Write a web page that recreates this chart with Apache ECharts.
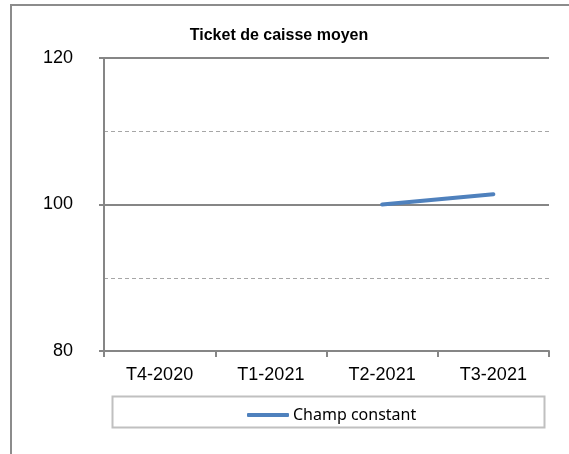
<!DOCTYPE html>
<html>
<head>
<meta charset="utf-8">
<script src="https://cdn.jsdelivr.net/npm/echarts@6/dist/echarts.min.js"></script>
<style>
  html, body { margin: 0; padding: 0; background: #fff; }
  #chart { width: 569px; height: 454px; }
</style>
</head>
<body>
<div id="chart"></div>
<script>
// data
const categories = ['T4-2020', 'T1-2021', 'T2-2021', 'T3-2021']
const champConstant = [null, null, 100, 101.4]
const seriesName = 'Champ constant'

const chartInstance = echarts.init(document.getElementById('chart'))

const option = {
    animation: false,
    title: {
        text: 'Ticket de caisse moyen',
        left: 274,
        textAlign: 'center',
        top: 23,
        textStyle: {
            fontFamily: 'Liberation Sans, Arial',
            fontSize: 16,
            fontWeight: 'bold',
            color: '#000'
        }
    },
    graphic: [
        {
            // outer frame, runs off the right and bottom edge
            type: 'rect',
            shape: { x: 11, y: 5, width: 620, height: 520 },
            style: { fill: 'none', stroke: '#8c8c8c', lineWidth: 2 },
            z: 0
        },
        {
            // legend box
            type: 'rect',
            shape: { x: 112.5, y: 396.5, width: 432, height: 31 },
            style: { fill: 'none', stroke: '#c0c0c0', lineWidth: 2 },
            z: 0
        }
    ],
    legend: {
        data: [seriesName],
        left: 242,
        top: 402,
        icon: 'roundRect',
        itemWidth: 42,
        itemHeight: 4,
        itemGap: 0,
        textStyle: {
            fontFamily: 'Noto Sans, Open Sans',
            fontSize: 16,
            color: '#000',
            padding: [0, 0, 0, -1]
        }
    },
    grid: {
        left: 104,
        right: 20,
        top: 58,
        bottom: 103
    },
    xAxis: {
        type: 'category',
        data: categories,
        boundaryGap: true,
        axisLine: { lineStyle: { color: '#868686', width: 2 } },
        axisTick: { show: true, length: 6, lineStyle: { color: '#868686', width: 2 } },
        axisLabel: {
            margin: 15,
            fontFamily: 'Liberation Sans, Arial',
            fontSize: 18,
            color: '#000'
        },
        splitLine: { show: false }
    },
    yAxis: [
        {
            // minor gridlines, dashed
            type: 'value',
            min: 80,
            max: 120,
            interval: 10,
            position: 'left',
            axisLine: { show: false },
            axisTick: { show: false },
            axisLabel: { show: false },
            splitLine: { lineStyle: { color: '#a6a6a6', type: [4, 3], width: 1 } }
        },
        {
            // major ticks, labels and solid gridlines
            type: 'value',
            min: 80,
            max: 120,
            interval: 20,
            position: 'left',
            axisLine: { show: true, lineStyle: { color: '#868686', width: 2 } },
            axisTick: { show: true, length: 5, lineStyle: { color: '#868686', width: 2 } },
            axisLabel: {
                margin: 31,
                fontFamily: 'Liberation Sans, Arial',
                fontSize: 18,
                color: '#000'
            },
            splitLine: { lineStyle: { color: '#868686', width: 2 } }
        }
    ],
    series: [
        {
            name: seriesName,
            type: 'line',
            yAxisIndex: 1,
            data: champConstant,
            showSymbol: false,
            symbol: 'none',
            connectNulls: false,
            color: '#4f81bd',
            lineStyle: { color: '#4f81bd', width: 4, cap: 'round' },
            z: 5
        }
    ]
}
chartInstance.setOption(option)
</script>
</body>
</html>
